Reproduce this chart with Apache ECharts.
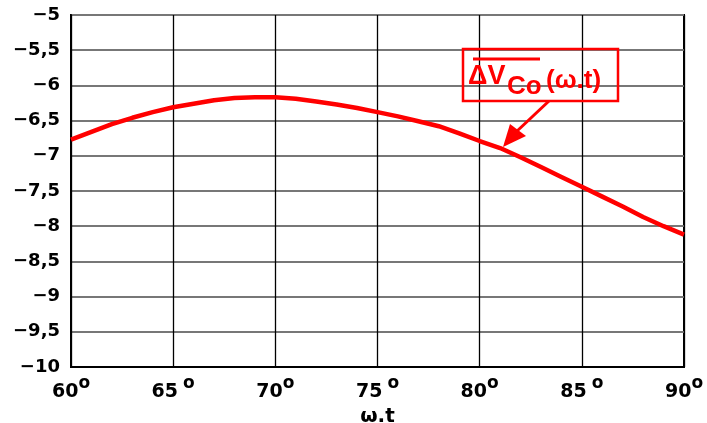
<!DOCTYPE html>
<html>
<head>
<meta charset="utf-8">
<script src="https://cdn.jsdelivr.net/npm/echarts@6/dist/echarts.min.js"></script>
<style>html,body{margin:0;padding:0;background:#fff}#c{width:707px;height:423px}</style>
</head>
<body>
<div id="c"></div>
<script>
const angles = [60,61,62,63,64,65,66,67,68,69,70,71,72,73,74,75,76,77,78,79,80,81,82,83,84,85,86,87,88,89,90];
const dVCo = [-6.77,-6.66,-6.55,-6.46,-6.38,-6.31,-6.26,-6.21,-6.18,-6.17,-6.17,-6.19,-6.23,-6.27,-6.32,-6.38,-6.44,-6.51,-6.58,-6.68,-6.79,-6.89,-7.02,-7.16,-7.30,-7.44,-7.58,-7.72,-7.87,-8.00,-8.12];
const xTicks = [60,65,70,75,80,85,90];
const yTicks = [-10,-9.5,-9,-8.5,-8,-7.5,-7,-6.5,-6,-5.5,-5];
const xName = 'ω.t';
const legendParts = ['ΔV','Co','(ω.t)'];

const FONT = 'DejaVu Sans';
const chart = echarts.init(document.getElementById('c'));
chart.setOption({
  backgroundColor:'#fff',
  animation:false,
  grid:{left:71,right:23,top:15,bottom:56,show:true,borderColor:'#000',borderWidth:2,backgroundColor:'transparent',outerBoundsMode:'none',containLabel:false},
  xAxis:{
    type:'value',min:xTicks[0],max:xTicks[xTicks.length-1],interval:5,
    name:xName,nameLocation:'middle',nameGap:35,
    nameTextStyle:{fontFamily:FONT,fontWeight:'bold',fontSize:20,color:'#000',
      rich:{}},
    axisLine:{show:true,lineStyle:{color:'#000',width:2}},
    axisTick:{show:false},
    splitLine:{show:true,lineStyle:{color:'#000',width:1.3}},
    axisLabel:{margin:8,color:'#000',
      formatter:v=>(v%10===5?`{n|${v}}{g|o}`:`{n|${v}}{s|o}`),
      rich:{
        n:{fontFamily:FONT,fontWeight:'bold',fontSize:19,color:'#000',lineHeight:27,verticalAlign:'bottom'},
        s:{fontFamily:FONT,fontWeight:'bold',fontSize:17,color:'#000',lineHeight:17,verticalAlign:'top'},
        g:{fontFamily:FONT,fontWeight:'bold',fontSize:17,color:'#000',lineHeight:17,verticalAlign:'top',padding:[0,0,0,5]}
      }}
  },
  yAxis:{
    type:'value',min:yTicks[0],max:yTicks[yTicks.length-1],interval:0.5,
    axisLine:{show:true,lineStyle:{color:'#000',width:2}},
    axisTick:{show:false},
    splitLine:{show:true,lineStyle:{color:'#777',width:2}},
    axisLabel:{margin:11,color:'#000',fontFamily:FONT,fontWeight:'bold',fontSize:18,
      formatter:v=>(v<0?'\u2212':'')+String(Math.abs(v)).replace('.',',')}
  },
  series:[{
    type:'line',data:angles.map((a,i)=>[a,dVCo[i]]),showSymbol:false,
    lineStyle:{color:'#ff0000',width:4.5},z:5
  }],
  graphic:[
    {type:'rect',shape:{x:463,y:49,width:155,height:52},style:{fill:'none',stroke:'#ff0000',lineWidth:2.5},z:10},
    {type:'line',shape:{x1:473,y1:59,x2:540,y2:59},style:{stroke:'#ff0000',lineWidth:3},z:10},
    {type:'text',x:468,y:77,style:{text:legendParts[0],fill:'#ff0000',font:'bold 27px "Liberation Sans"',verticalAlign:'middle',align:'left'},z:10},
    {type:'text',x:507,y:87,style:{text:legendParts[1],fill:'#ff0000',font:'bold 26px "Liberation Sans"',verticalAlign:'middle',align:'left'},z:10},
    {type:'text',x:546,y:81,style:{text:legendParts[2],fill:'#ff0000',font:'bold 26px "Liberation Sans"',verticalAlign:'middle',align:'left'},z:10},
    {type:'line',shape:{x1:549,y1:101,x2:516,y2:132},style:{stroke:'#ff0000',lineWidth:3},z:10},
    {type:'polygon',shape:{points:[[503,147],[510,124],[526,136]]},style:{fill:'#ff0000'},z:10}
  ]
});
</script>
</body>
</html>
